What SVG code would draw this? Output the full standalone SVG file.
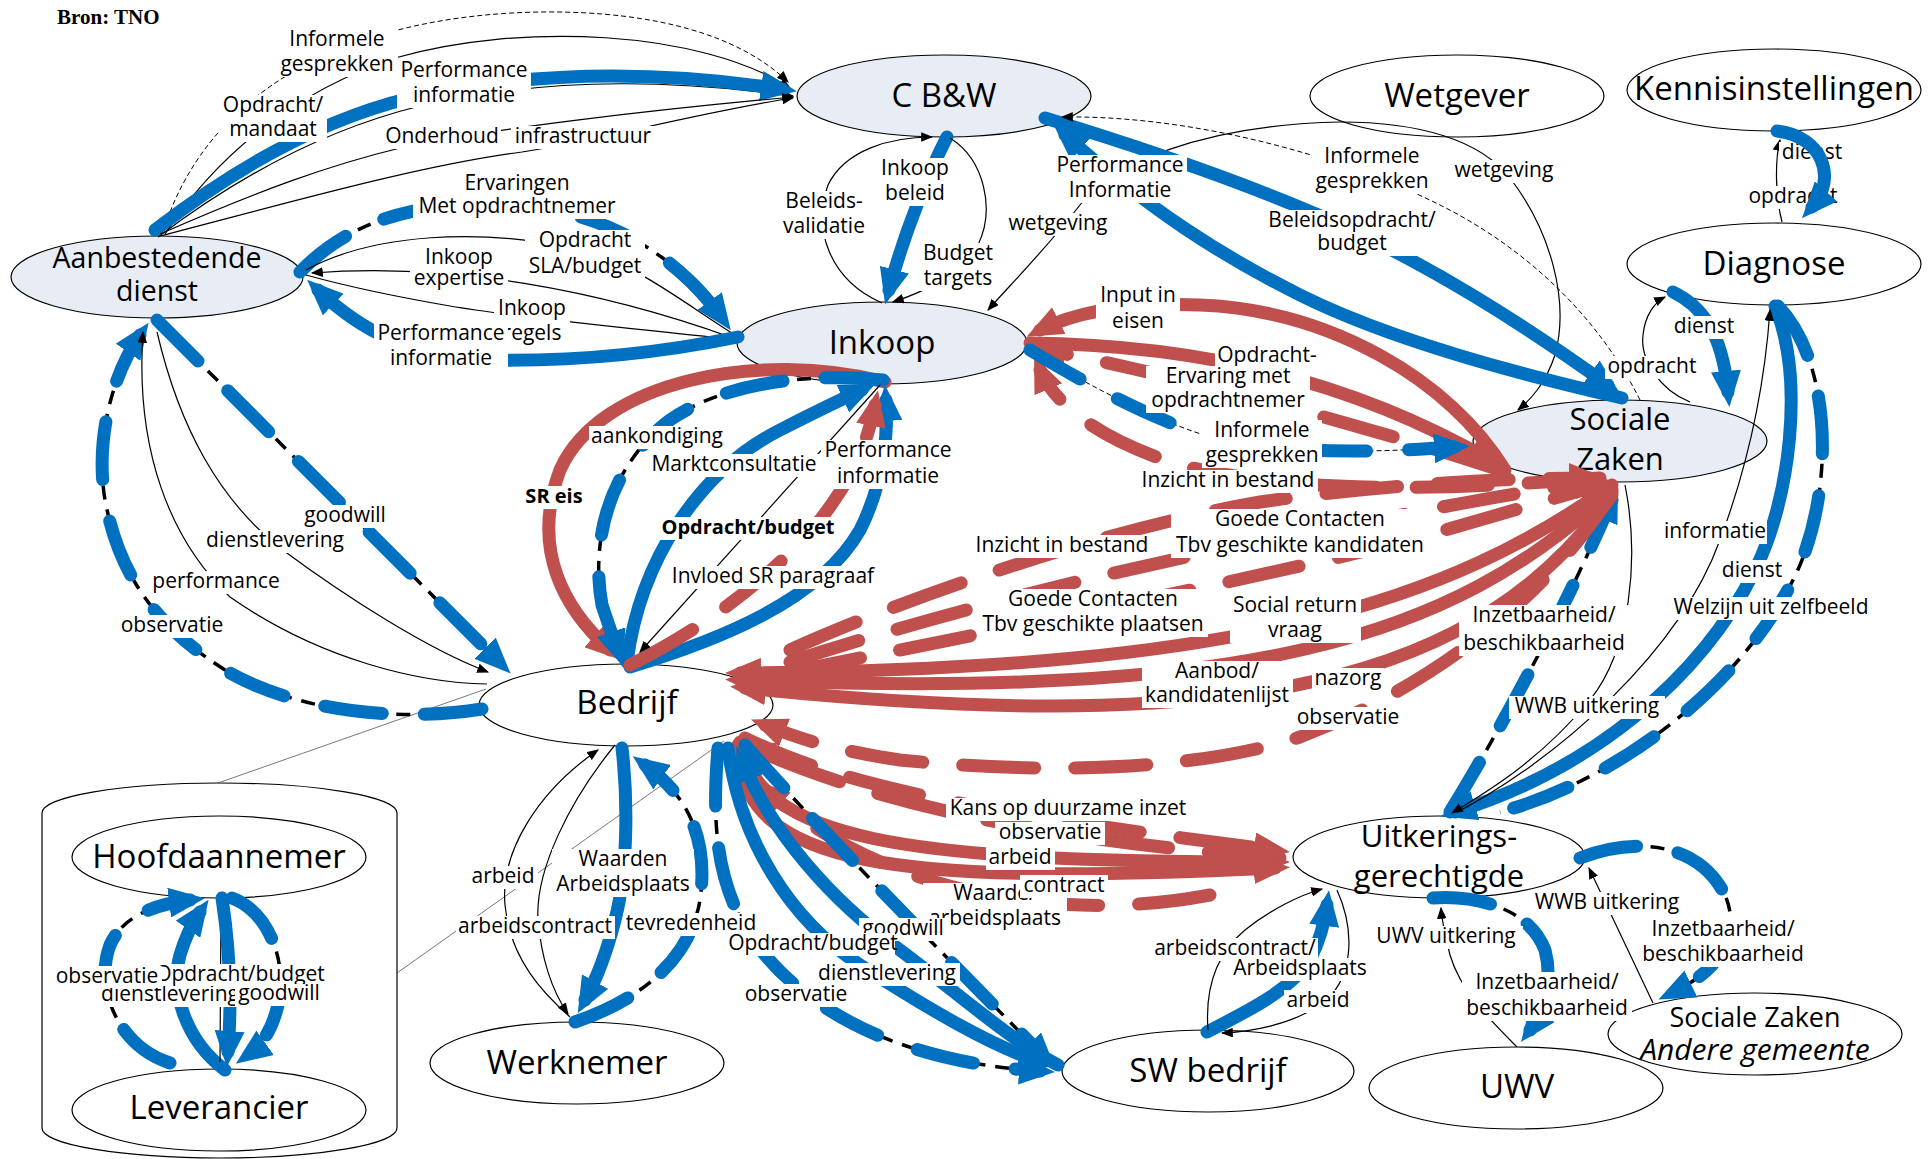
<svg xmlns="http://www.w3.org/2000/svg" width="1930" height="1159" viewBox="0 0 1930 1159">
<style>
.nw{fill:#fff;stroke:#000;stroke-width:1.2}
.nl{fill:#e8edf5;stroke:#000;stroke-width:1.2}
.nt{font-family:"Open Sans",sans-serif;font-size:33px;text-anchor:middle;fill:#000}
.lt{font-family:"Open Sans",sans-serif;font-size:21px;text-anchor:middle;fill:#000}
.bx{fill:#fff}
.bo{font-weight:bold}
.k{fill:none;stroke:#000;stroke-width:1.2;marker-end:url(#aK)}
.k0{fill:none;stroke:#000;stroke-width:1.2}
.kd{fill:none;stroke:#000;stroke-width:1;stroke-dasharray:5 3;marker-end:url(#aK)}
.kd0{fill:none;stroke:#000;stroke-width:1;stroke-dasharray:5 3}
.bk{fill:none;stroke:#000;stroke-width:3.5;stroke-dasharray:14 10}
.b{fill:none;stroke:#0070c0;stroke-width:13;stroke-linecap:round;marker-end:url(#aB)}
.bd{fill:none;stroke:#0070c0;stroke-width:13;stroke-linecap:round;stroke-dasharray:58 42;marker-end:url(#aB)}
.bdn{fill:none;stroke:#0070c0;stroke-width:13;stroke-linecap:round;stroke-dasharray:58 42}
.r{fill:none;stroke:#c0504d;stroke-width:13;stroke-linecap:round;marker-end:url(#aR)}
.rd{fill:none;stroke:#c0504d;stroke-width:13;stroke-linecap:round;stroke-dasharray:72 40;marker-end:url(#aR)}
.call{fill:none;stroke:#555;stroke-width:0.8}
</style>
<defs>
<marker id="aB" viewBox="0 0 12 10" refX="7" refY="5" markerWidth="36" markerHeight="30" markerUnits="userSpaceOnUse" orient="auto"><path d="M0,0L12,5L0,10z" fill="#0070c0"/></marker>
<marker id="aR" viewBox="0 0 12 10" refX="7" refY="5" markerWidth="36" markerHeight="30" markerUnits="userSpaceOnUse" orient="auto"><path d="M0,0L12,5L0,10z" fill="#c0504d"/></marker>
<marker id="aK" viewBox="0 0 10 8" refX="9" refY="4" markerWidth="12" markerHeight="9.6" markerUnits="userSpaceOnUse" orient="auto"><path d="M0,0L10,4L0,8z" fill="#000"/></marker>
</defs>
<rect width="1930" height="1159" fill="#fff"/>
<text x="57" y="24" font-family="Liberation Serif, serif" font-weight="bold" font-size="21">Bron: TNO</text>

<g id="container-keten">
<path class="nw" d="M42,813 A177.5,30 0 0 1 397,813 L397,1128 A177.5,30 0 0 1 42,1128 Z"/>
<path class="call" d="M218,783 L486,689 M397,973 L724,741"/>
</g>

<g id="node-aanbestedende-dienst"><ellipse class="nl" cx="157" cy="277" rx="146" ry="41"/><text class="nt" x="157" y="268" style="font-size:28.5px">Aanbestedende</text><text class="nt" x="157" y="301" style="font-size:28.5px">dienst</text></g>
<g id="node-cbw"><ellipse class="nl" cx="944" cy="96" rx="147" ry="41"/><text class="nt" x="944" y="107">C B&amp;W</text></g>
<g id="node-wetgever"><ellipse class="nw" cx="1457" cy="96" rx="147" ry="41"/><text class="nt" x="1457" y="107">Wetgever</text></g>
<g id="node-kennisinstellingen"><ellipse class="nw" cx="1774" cy="90" rx="147" ry="41"/><text class="nt" x="1774" y="100">Kennisinstellingen</text></g>
<g id="node-diagnose"><ellipse class="nw" cx="1774" cy="264" rx="147" ry="41"/><text class="nt" x="1774" y="275">Diagnose</text></g>
<g id="node-inkoop"><ellipse class="nl" cx="882" cy="343" rx="145" ry="41"/><text class="nt" x="882" y="354">Inkoop</text></g>
<g id="node-sociale-zaken"><ellipse class="nl" cx="1620" cy="441" rx="147" ry="41"/><text class="nt" x="1620" y="430" style="font-size:31px">Sociale</text><text class="nt" x="1620" y="470" style="font-size:31px">Zaken</text></g>
<g id="node-bedrijf"><ellipse class="nw" cx="626" cy="705" rx="147" ry="41"/><text class="nt" x="627" y="714">Bedrijf</text></g>
<g id="node-hoofdaannemer"><ellipse class="nw" cx="219" cy="857" rx="147" ry="41"/><text class="nt" x="219" y="868">Hoofdaannemer</text></g>
<g id="node-leverancier"><ellipse class="nw" cx="219" cy="1110" rx="147" ry="41"/><text class="nt" x="219" y="1119">Leverancier</text></g>
<g id="node-werknemer"><ellipse class="nw" cx="577" cy="1063" rx="147" ry="41"/><text class="nt" x="577" y="1074">Werknemer</text></g>
<g id="node-sw-bedrijf"><ellipse class="nw" cx="1208" cy="1071" rx="146" ry="41"/><text class="nt" x="1208" y="1082">SW bedrijf</text></g>
<g id="node-uitkeringsgerechtigde"><ellipse class="nw" cx="1439" cy="857" rx="146" ry="41"/><text class="nt" x="1439" y="847" style="font-size:31px">Uitkerings-</text><text class="nt" x="1439" y="887" style="font-size:31px">gerechtigde</text></g>
<g id="node-uwv"><ellipse class="nw" cx="1516" cy="1088" rx="147" ry="41"/><text class="nt" x="1517" y="1098">UWV</text></g>
<g id="node-sociale-zaken-andere"><ellipse class="nw" cx="1755" cy="1034" rx="147" ry="41"/><text class="nt" x="1755" y="1027" style="font-size:27px">Sociale Zaken</text><text class="nt" x="1755" y="1060" style="font-size:30px;font-style:italic">Andere gemeente</text></g>

<g id="connectors">
<path class="kd" d="M170,212 C230,60 400,10 560,12 C680,14 750,45 788,82"/>
<path class="k" d="M165,234 C220,150 300,90 395,58 C520,22 700,30 790,88"/>
<path class="k" d="M158,237 C240,175 330,128 420,106 C560,74 690,82 793,96"/>
<path class="b" d="M155,230 C235,168 320,120 410,98 C550,66 680,74 782,89"/>
<path class="k" d="M160,234 C260,190 330,165 400,148 C480,130 650,110 793,97"/>
<path class="k" d="M160,236 C280,205 420,165 522,152 C600,140 700,112 793,98"/>
<path class="bk" d="M300,272 C350,220 420,200 510,205 C610,210 680,260 722,318"/>
<path class="bd" d="M300,272 C350,220 420,200 510,205 C610,210 680,260 722,318"/>
<path class="k0" d="M735,335 C680,300 640,268 590,252 C480,225 370,235 306,270"/>
<path class="k" d="M733,338 C600,290 450,262 312,273"/>
<path class="k0" d="M737,340 C650,330 520,318 450,306 C380,294 335,283 306,275"/>
<path class="b" d="M738,337 C650,355 560,362 480,360 C410,356 360,330 318,290"/>
<path class="bk" d="M482,709 C400,722 300,712 230,673 C160,630 120,580 105,500 C95,440 112,375 140,335"/>
<path class="bd" d="M482,709 C400,722 300,712 230,673 C160,630 120,580 105,500 C95,440 112,375 140,335"/>
<path class="k" d="M487,684 C420,683 320,660 230,597 C170,540 135,450 143,332"/>
<path class="k" d="M157,332 C180,430 220,500 280,548 C350,600 430,650 488,672"/>
<path class="bk" d="M157,320 L500,663"/>
<path class="bd" d="M157,320 L500,663"/>
<path class="k" d="M882,303 C830,280 812,230 828,185 C845,150 890,137 932,137"/>
<path class="b" d="M947,137 C930,170 905,230 889,290"/>
<path class="k" d="M950,138 C985,160 995,210 978,245 C965,270 930,290 893,302"/>
<path class="k" d="M1340,122 C1200,125 1110,165 1080,205 C1045,250 1010,285 988,310"/>
<path class="k" d="M1340,122 C1420,122 1480,140 1510,178 C1550,230 1570,300 1555,355 C1545,385 1530,400 1518,410"/>
<path class="b" d="M1045,118 C1150,150 1250,185 1330,220 C1430,265 1520,322 1608,385"/>
<path class="b" d="M1622,398 C1500,370 1380,335 1300,295 C1220,255 1150,210 1065,135"/>
<path class="kd" d="M1640,400 C1600,320 1530,250 1440,205 C1350,160 1200,115 1062,117"/>
<path class="k" d="M1782,222 C1775,195 1775,160 1780,140"/>
<path class="b" d="M1673,292 C1700,305 1722,330 1728,392"/>
<path class="k" d="M1690,402 C1660,390 1640,360 1643,335 C1645,315 1655,302 1665,297"/>
<path class="b" d="M1775,306 C1805,380 1790,500 1755,570 C1700,680 1590,770 1455,812"/>
<path class="bk" d="M1778,306 C1830,360 1835,480 1800,565 C1750,680 1620,780 1500,812"/>
<path class="bdn" d="M1778,306 C1830,360 1835,480 1800,565 C1750,680 1620,780 1500,812"/>
<path class="k" d="M1448,817 C1560,760 1680,650 1720,540 C1750,460 1765,380 1770,310"/>
<path class="bk" d="M1450,812 C1500,730 1560,620 1612,500"/>
<path class="bd" d="M1450,812 C1500,730 1560,620 1612,500"/>
<path class="k" d="M1625,485 C1640,560 1630,650 1590,700 C1540,760 1490,790 1452,813"/>
<path class="r" d="M885,382 C760,350 600,380 560,470 C530,550 565,610 610,650"/>
<path class="bk" d="M883,380 C800,372 720,385 670,420 C610,465 590,540 602,605 L618,652"/>
<path class="bd" d="M883,380 C800,372 720,385 670,420 C610,465 590,540 602,605 L618,652"/>
<path class="b" d="M627,662 C640,560 700,470 780,430 C815,412 840,400 862,390"/>
<path class="b" d="M630,667 C720,640 820,600 860,530 C885,480 888,430 886,400"/>
<path class="rd" d="M630,665 C700,630 770,580 820,520 C855,475 868,440 875,405"/>
<path class="k" d="M880,385 L640,652"/>
<path class="r" d="M1505,470 C1450,380 1330,310 1200,305 C1120,302 1070,315 1040,330"/>
<path class="r" d="M1030,343 C1200,345 1350,380 1490,460"/>
<path class="rd" d="M1500,470 C1350,420 1150,370 1045,350"/>
<path class="rd" d="M1600,478 C1450,490 1300,495 1180,465 C1100,440 1055,405 1040,370"/>
<path class="kd0" d="M1030,350 C1080,380 1150,420 1220,440 C1300,455 1380,452 1455,447"/>
<path class="bd" d="M1030,350 C1080,380 1150,420 1220,440 C1300,455 1380,452 1455,447"/>
<path class="r" d="M1612,485 C1450,600 1250,670 740,673"/>
<path class="r" d="M1612,490 C1450,640 1250,700 740,680"/>
<path class="r" d="M1612,495 C1480,680 1250,740 745,688"/>
<path class="rd" d="M790,650 C900,600 1100,530 1260,502 C1400,482 1520,478 1590,478"/>
<path class="rd" d="M790,662 C950,610 1150,560 1350,525 C1450,505 1530,490 1595,482"/>
<path class="rd" d="M790,672 C950,640 1150,600 1300,566 C1420,540 1530,505 1600,485"/>
<path class="rd" d="M1612,492 C1560,580 1450,680 1300,737 C1200,770 1050,775 900,760 C830,750 790,735 765,725"/>
<path class="rd" d="M745,738 C850,790 1000,815 1275,850"/>
<path class="rd" d="M1280,858 C1100,845 900,815 752,748"/>
<path class="r" d="M740,742 C760,840 900,862 1275,862"/>
<path class="r" d="M738,745 C740,870 900,885 1275,868"/>
<path class="rd" d="M1210,895 C1050,925 880,890 765,790"/>
<path class="k" d="M570,1017 C545,995 510,960 505,905 C500,850 540,790 598,750"/>
<path class="k" d="M615,745 C570,800 535,870 538,920 C542,965 555,995 568,1014"/>
<path class="b" d="M622,748 C628,800 628,870 615,920 C606,955 596,980 585,1000"/>
<path class="bk" d="M575,1022 C640,1000 690,960 700,900 C710,830 680,790 645,765"/>
<path class="bd" d="M575,1022 C640,1000 690,960 700,900 C710,830 680,790 645,765"/>
<path class="bk" d="M718,748 C712,820 715,880 750,935 C800,1010 900,1062 1040,1071"/>
<path class="bd" d="M718,748 C712,820 715,880 750,935 C800,1010 900,1062 1040,1071"/>
<path class="b" d="M728,748 C740,840 790,920 860,965 C930,1010 990,1045 1040,1062"/>
<path class="b" d="M1058,1065 C1010,1040 960,995 900,950 C830,900 770,830 742,760"/>
<path class="bk" d="M745,745 C820,830 940,950 1045,1058"/>
<path class="bd" d="M745,745 C820,830 940,950 1045,1058"/>
<path class="b" d="M1207,1032 C1250,1010 1290,990 1310,960 C1320,940 1325,920 1327,905"/>
<path class="k" d="M1208,1030 C1205,990 1215,955 1245,930 C1270,910 1300,895 1322,889"/>
<path class="k" d="M1337,890 C1355,930 1355,980 1320,1005 C1290,1025 1250,1032 1222,1033"/>
<path class="bk" d="M1433,898 C1480,895 1530,910 1545,950 C1553,980 1545,1010 1530,1030"/>
<path class="bd" d="M1433,898 C1480,895 1530,910 1545,950 C1553,980 1545,1010 1530,1030"/>
<path class="k" d="M1517,1047 C1490,1020 1460,990 1450,955 C1445,935 1442,922 1441,908"/>
<path class="bk" d="M1580,858 C1640,835 1700,845 1725,895 C1742,935 1720,970 1672,993"/>
<path class="bd" d="M1580,858 C1640,835 1700,845 1725,895 C1742,935 1720,970 1672,993"/>
<path class="k" d="M1653,1003 L1589,868"/>
<path class="bk" d="M170,1063 C115,1045 95,985 110,945 C122,918 150,905 190,900"/>
<path class="bd" d="M170,1063 C115,1045 95,985 110,945 C122,918 150,905 190,900"/>
<path class="b" d="M225,1070 C185,1040 170,990 180,955 C186,935 193,922 200,912"/>
<path class="k0" d="M221,903 L220,1062"/>
<path class="b" d="M222,898 C230,950 232,1000 228,1052"/>
<path class="bk" d="M232,898 C268,912 288,960 278,1005 C272,1030 262,1045 248,1055"/>
<path class="bd" d="M232,898 C268,912 288,960 278,1005 C272,1030 262,1045 248,1055"/>
</g>

<g id="labels">
<g><rect class="bx" x="276" y="29" width="122" height="48"/><text class="lt"><tspan x="337" y="46">Informele</tspan><tspan x="337" y="71">gesprekken</tspan></text></g>
<g><rect class="bx" x="219" y="95" width="108" height="47"/><text class="lt"><tspan x="273" y="112">Opdracht/</tspan><tspan x="273" y="136">mandaat</tspan></text></g>
<g><rect class="bx" x="397" y="60" width="134" height="48"/><text class="lt"><tspan x="464" y="77">Performance</tspan><tspan x="464" y="102">informatie</tspan></text></g>
<g><rect class="bx" x="383" y="126" width="118" height="23"/><text class="lt" x="442" y="143">Onderhoud</text></g>
<g><rect class="bx" x="511" y="126" width="144" height="23"/><text class="lt" x="583" y="143">infrastructuur</text></g>
<g><rect class="bx" x="413" y="173" width="209" height="46"/><text class="lt"><tspan x="517" y="190">Ervaringen</tspan><tspan x="517" y="213">Met opdrachtnemer</tspan></text></g>
<g><rect class="bx" x="525" y="230" width="120" height="49"/><text class="lt"><tspan x="585" y="247">Opdracht</tspan><tspan x="585" y="273">SLA/budget</tspan></text></g>
<g><rect class="bx" x="410" y="247" width="98" height="44"/><text class="lt"><tspan x="459" y="264">Inkoop</tspan><tspan x="459" y="285">expertise</tspan></text></g>
<g><rect class="bx" x="494" y="298" width="76" height="48"/><text class="lt"><tspan x="532" y="315">Inkoop</tspan><tspan x="532" y="340">regels</tspan></text></g>
<g><rect class="bx" x="374" y="323" width="134" height="48"/><text class="lt"><tspan x="441" y="340">Performance</tspan><tspan x="441" y="365">informatie</tspan></text></g>
<g><rect class="bx" x="117" y="615" width="110" height="23"/><text class="lt" x="172" y="632">observatie</text></g>
<g><rect class="bx" x="149" y="571" width="134" height="23"/><text class="lt" x="216" y="588">performance</text></g>
<g><rect class="bx" x="202" y="530" width="146" height="23"/><text class="lt" x="275" y="547">dienstlevering</text></g>
<g><rect class="bx" x="301" y="505" width="88" height="23"/><text class="lt" x="345" y="522">goodwill</text></g>
<g><rect class="bx" x="779" y="191" width="90" height="48"/><text class="lt"><tspan x="824" y="208">Beleids-</tspan><tspan x="824" y="233">validatie</tspan></text></g>
<g><rect class="bx" x="878" y="158" width="74" height="48"/><text class="lt"><tspan x="915" y="175">Inkoop</tspan><tspan x="915" y="200">beleid</tspan></text></g>
<g><rect class="bx" x="920" y="243" width="76" height="48"/><text class="lt"><tspan x="958" y="260">Budget</tspan><tspan x="958" y="285">targets</tspan></text></g>
<g><rect class="bx" x="1005" y="213" width="106" height="23"/><text class="lt" x="1058" y="230">wetgeving</text></g>
<g><rect class="bx" x="1451" y="160" width="106" height="23"/><text class="lt" x="1504" y="177">wetgeving</text></g>
<g><rect class="bx" x="1053" y="155" width="134" height="48"/><text class="lt"><tspan x="1120" y="172">Performance</tspan><tspan x="1120" y="197">Informatie</tspan></text></g>
<g><rect class="bx" x="1312" y="146" width="120" height="48"/><text class="lt"><tspan x="1372" y="163">Informele</tspan><tspan x="1372" y="188">gesprekken</tspan></text></g>
<g><rect class="bx" x="1265" y="210" width="174" height="46"/><text class="lt"><tspan x="1352" y="227">Beleidsopdracht/</tspan><tspan x="1352" y="250">budget</tspan></text></g>
<g><rect class="bx" x="1779" y="142" width="66" height="23"/><text class="lt" x="1812" y="159">dienst</text></g>
<g><rect class="bx" x="1746" y="186" width="94" height="23"/><text class="lt" x="1793" y="203">opdracht</text></g>
<g><rect class="bx" x="1671" y="316" width="66" height="23"/><text class="lt" x="1704" y="333">dienst</text></g>
<g><rect class="bx" x="1605" y="356" width="94" height="23"/><text class="lt" x="1652" y="373">opdracht</text></g>
<g><rect class="bx" x="1663" y="521" width="104" height="23"/><text class="lt" x="1715" y="538">informatie</text></g>
<g><rect class="bx" x="1719" y="560" width="66" height="23"/><text class="lt" x="1752" y="577">dienst</text></g>
<g><rect class="bx" x="1667" y="597" width="208" height="23"/><text class="lt" x="1771" y="614">Welzijn uit zelfbeeld</text></g>
<g><rect class="bx" x="1459" y="605" width="170" height="51"/><text class="lt"><tspan x="1544" y="622">Inzetbaarheid/</tspan><tspan x="1544" y="650">beschikbaarheid</tspan></text></g>
<g><rect class="bx" x="1509" y="696" width="156" height="23"/><text class="lt" x="1587" y="713">WWB uitkering</text></g>
<g><rect class="bx" x="522" y="486" width="64" height="23"/><text class="lt bo" x="554" y="503" style="font-size:20px">SR eis</text></g>
<g><rect class="bx" x="589" y="426" width="137" height="23"/><text class="lt" x="657" y="443">aankondiging</text></g>
<g><rect class="bx" x="647" y="454" width="174" height="23"/><text class="lt" x="734" y="471">Marktconsultatie</text></g>
<g><rect class="bx" x="821" y="440" width="134" height="49"/><text class="lt"><tspan x="888" y="457">Performance</tspan><tspan x="888" y="483">informatie</tspan></text></g>
<g><rect class="bx" x="656" y="517" width="184" height="23"/><text class="lt bo" x="748" y="534" style="font-size:20px">Opdracht/budget</text></g>
<g><rect class="bx" x="669" y="566" width="209" height="23"/><text class="lt" x="773" y="583">Invloed SR paragraaf</text></g>
<g><rect class="bx" x="1096" y="285" width="84" height="49"/><text class="lt"><tspan x="1138" y="302">Input in</tspan><tspan x="1138" y="328">eisen</tspan></text></g>
<g><rect class="bx" x="1215" y="345" width="104" height="23"/><text class="lt" x="1267" y="362">Opdracht-</text></g>
<g><rect class="bx" x="1146" y="366" width="164" height="47"/><text class="lt"><tspan x="1228" y="383">Ervaring met</tspan><tspan x="1228" y="407">opdrachtnemer</tspan></text></g>
<g><rect class="bx" x="1202" y="420" width="120" height="48"/><text class="lt"><tspan x="1262" y="437">Informele</tspan><tspan x="1262" y="462">gesprekken</tspan></text></g>
<g><rect class="bx" x="1139" y="470" width="179" height="23"/><text class="lt" x="1228" y="487">Inzicht in bestand</text></g>
<g><rect class="bx" x="1171" y="509" width="259" height="49"/><text class="lt"><tspan x="1300" y="526">Goede Contacten</tspan><tspan x="1300" y="552">Tbv geschikte kandidaten</tspan></text></g>
<g><rect class="bx" x="973" y="535" width="179" height="23"/><text class="lt" x="1062" y="552">Inzicht in bestand</text></g>
<g><rect class="bx" x="979" y="589" width="229" height="48"/><text class="lt"><tspan x="1093" y="606">Goede Contacten</tspan><tspan x="1093" y="631">Tbv geschikte plaatsen</tspan></text></g>
<g><rect class="bx" x="1230" y="595" width="131" height="48"/><text class="lt"><tspan x="1295" y="612">Social return</tspan><tspan x="1295" y="637">vraag</tspan></text></g>
<g><rect class="bx" x="1142" y="661" width="151" height="47"/><text class="lt"><tspan x="1217" y="678">Aanbod/</tspan><tspan x="1217" y="702">kandidatenlijst</tspan></text></g>
<g><rect class="bx" x="1312" y="668" width="72" height="23"/><text class="lt" x="1348" y="685">nazorg</text></g>
<g><rect class="bx" x="1293" y="707" width="110" height="23"/><text class="lt" x="1348" y="724">observatie</text></g>
<g><rect class="bx" x="946" y="798" width="244" height="23"/><text class="lt" x="1068" y="815">Kans op duurzame inzet</text></g>
<g><rect class="bx" x="995" y="822" width="110" height="23"/><text class="lt" x="1050" y="839">observatie</text></g>
<g><rect class="bx" x="986" y="847" width="69" height="23"/><text class="lt" x="1020" y="864">arbeid</text></g>
<g><rect class="bx" x="923" y="883" width="144" height="48"/><text class="lt"><tspan x="995" y="900">Waarde/</tspan><tspan x="995" y="925">arbeidsplaats</tspan></text></g>
<g><rect class="bx" x="1020" y="875" width="88" height="23"/><text class="lt" x="1064" y="892">contract</text></g>
<g><rect class="bx" x="469" y="866" width="69" height="23"/><text class="lt" x="503" y="883">arbeid</text></g>
<g><rect class="bx" x="456" y="916" width="159" height="23"/><text class="lt" x="535" y="933">arbeidscontract</text></g>
<g><rect class="bx" x="552" y="849" width="142" height="48"/><text class="lt"><tspan x="623" y="866">Waarden</tspan><tspan x="623" y="891">Arbeidsplaats</tspan></text></g>
<g><rect class="bx" x="623" y="913" width="137" height="23"/><text class="lt" x="691" y="930">tevredenheid</text></g>
<g><rect class="bx" x="859" y="918" width="88" height="23"/><text class="lt" x="903" y="935">goodwill</text></g>
<g><rect class="bx" x="731" y="933" width="164" height="23"/><text class="lt" x="813" y="950">Opdracht/budget</text></g>
<g><rect class="bx" x="814" y="963" width="146" height="23"/><text class="lt" x="887" y="980">dienstlevering</text></g>
<g><rect class="bx" x="741" y="984" width="110" height="23"/><text class="lt" x="796" y="1001">observatie</text></g>
<g><rect class="bx" x="1152" y="938" width="166" height="23"/><text class="lt" x="1235" y="955">arbeidscontract/</text></g>
<g><rect class="bx" x="1230" y="958" width="140" height="23"/><text class="lt" x="1300" y="975">Arbeidsplaats</text></g>
<g><rect class="bx" x="1284" y="990" width="69" height="23"/><text class="lt" x="1318" y="1007">arbeid</text></g>
<g><rect class="bx" x="1369" y="926" width="154" height="23"/><text class="lt" x="1446" y="943">UWV uitkering</text></g>
<g><rect class="bx" x="1462" y="972" width="170" height="49"/><text class="lt"><tspan x="1547" y="989">Inzetbaarheid/</tspan><tspan x="1547" y="1015">beschikbaarheid</tspan></text></g>
<g><rect class="bx" x="1529" y="892" width="156" height="23"/><text class="lt" x="1607" y="909">WWB uitkering</text></g>
<g><rect class="bx" x="1638" y="919" width="170" height="48"/><text class="lt"><tspan x="1723" y="936">Inzetbaarheid/</tspan><tspan x="1723" y="961">beschikbaarheid</tspan></text></g>
<g><rect class="bx" x="97" y="984" width="146" height="23"/><text class="lt" x="170" y="1001">dienstlevering</text></g>
<g><rect class="bx" x="160" y="964" width="161" height="22"/><text class="lt" x="240" y="981">Opdracht/budget</text></g>
<g><rect class="bx" x="52" y="966" width="110" height="22"/><text class="lt" x="107" y="983">observatie</text></g>
<g><rect class="bx" x="235" y="984" width="88" height="22"/><text class="lt" x="279" y="1000">goodwill</text></g>
</g>
<g id="connectors-top">
<path class="b" d="M1777,131 C1822,136 1838,178 1812,207"/>
</g>
</svg>
